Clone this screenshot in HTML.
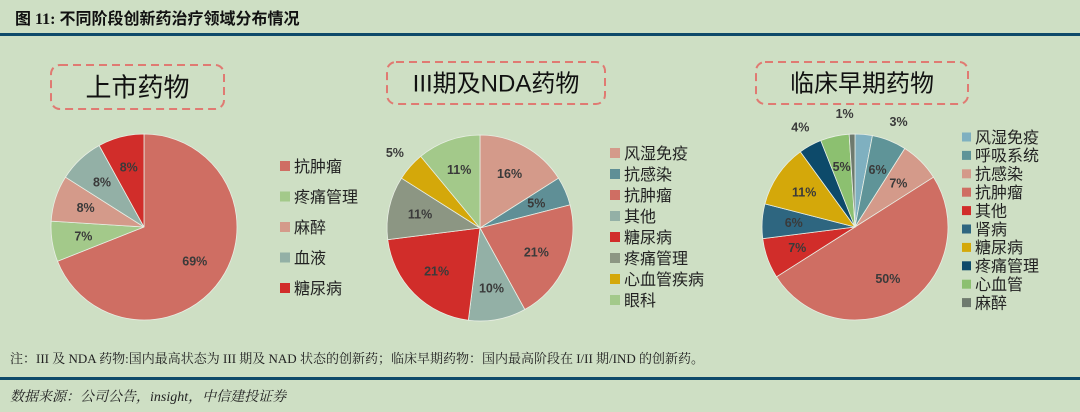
<!DOCTYPE html>
<html><head><meta charset="utf-8">
<style>
body{margin:0;background:#cedfc4;}
#root{position:relative;width:1080px;height:412px;background:#cedfc4;overflow:hidden;font-family:"Liberation Sans","Noto Sans CJK SC",sans-serif;}
.t{position:absolute;white-space:nowrap;}
</style></head>
<body>
<div id="root">
<div class="t" style="left:15px;top:5px;font-size:16px;font-weight:bold;color:#111;font-family:'Liberation Serif','Noto Sans CJK SC',serif;">图 11:  不同阶段创新药治疗领域分布情况</div>
<div style="position:absolute;left:0;top:33px;width:1080px;height:3px;background:#0e4a6a;"></div>
<svg id="svg" width="1080" height="412" style="position:absolute;left:0;top:0"></svg>
<div class="t" style="left:10px;top:348px;font-size:13px;color:#222;font-family:'Liberation Serif','Noto Serif CJK SC',serif;">注：III 及 NDA 药物:国内最高状态为 III 期及 NAD 状态的创新药；临床早期药物：国内最高阶段在 I/II 期/IND 的创新药。</div>
<div style="position:absolute;left:0;top:377px;width:1080px;height:3px;background:#0e4a6a;"></div>
<div class="t" style="left:10px;top:386px;font-size:14px;font-style:italic;color:#222;font-family:'Liberation Serif','Noto Serif CJK SC',serif;">数据来源：公司公告，insight，中信建投证券</div>
</div>
<script>
const p1Names=["抗肿瘤","疼痛管理","麻醉","血液","糖尿病"];
const p1Values=[69,7,8,8,8];
const p1Colors=["#cf6e63","#a3c98a","#d49a8a","#93b0a6","#d12d2a"];
const p2Names=["风湿免疫","抗感染","抗肿瘤","其他","糖尿病","疼痛管理","心血管疾病","眼科"];
const p2Values=[16,5,21,10,21,11,5,11];
const p2Colors=["#d49a8a","#5f8f96","#cf6e63","#93b0a6","#d12d2a","#8c9683","#d4a80a","#a3c98a"];
const p3Names=["风湿免疫","呼吸系统","抗感染","抗肿瘤","其他","肾病","糖尿病","疼痛管理","心血管","麻醉"];
const p3Values=[3,6,7,50,7,6,11,4,5,1];
const p3Colors=["#7fb0c0","#5f9498","#d49a8a","#cf6e63","#d12d2a","#2e6680","#d4a80a","#0d4a6a","#8cc070","#6e7a6e"];
const p2Outside=["心血管疾病"];
const p3Outside=["风湿免疫","疼痛管理","麻醉"];
const svg=document.getElementById('svg');
const NS="http://www.w3.org/2000/svg";
function mk(tag,attrs){const e=document.createElementNS(NS,tag);for(const k in attrs)e.setAttribute(k,attrs[k]);svg.appendChild(e);return e;}
function box(x,y,w,h,label,fs){
  const r=mk('rect',{x:x,y:y,width:w,height:h,rx:9,fill:'none',stroke:'#e07a72','stroke-width':2,'stroke-dasharray':'8,5'});
  
  
  const t=mk('text',{x:x+w/2,y:y+h/2+fs*0.36,'text-anchor':'middle','font-size':fs,fill:'#111'});
  t.textContent=label;
  
  
}
function pie(cx,cy,R,names,vals,cols,outside,lx,ly,dy,lfs,sq){
  const tot=vals.reduce((a,b)=>a+b,0);let acc=0;
  vals.forEach((v,i)=>{
    const a0=acc/tot*2*Math.PI;acc+=v;const a1=acc/tot*2*Math.PI;
    const x0=cx+R*Math.sin(a0),y0=cy-R*Math.cos(a0),x1=cx+R*Math.sin(a1),y1=cy-R*Math.cos(a1);
    const large=(a1-a0)>Math.PI?1:0;
    const p=mk('path',{d:`M${cx},${cy}L${x0},${y0}A${R},${R} 0 ${large} 1 ${x1},${y1}Z`,fill:cols[i],stroke:'#e8eee4','stroke-width':0.8});
    
    
    let am=(a0+a1)/2;const out=outside.indexOf(names[i])>=0;const f=out?1.22:0.66;
    if(out&&i===0)am+=0.3;
    if(out&&i===vals.length-1)am-=0.06;
    const t=mk('text',{x:cx+R*f*Math.sin(am),y:cy-R*f*Math.cos(am)+4,'text-anchor':'middle','font-size':12.5,'font-weight':'bold',fill:'#3a3a3a'});
    t.textContent=v+'%';
    
    
    const s=mk('rect',{x:lx,y:ly+i*dy-sq/2,width:sq,height:sq,fill:cols[i]});
    
    
    const lt=mk('text',{x:lx+sq+4,y:ly+i*dy+lfs*0.36,'font-size':lfs,fill:'#222'});
    lt.textContent=names[i];
    
    
  });
}
box(51,65,173,44,'上市药物',26);
box(387,62,218,42,'III期及NDA药物',24);
box(756,62,212,42,'临床早期药物',24);
pie(144,227,93,p1Names,p1Values,p1Colors,[],280,166,30.5,16,10);
pie(480,228,93,p2Names,p2Values,p2Colors,p2Outside,610,153,21,16,10);
pie(855,227,93,p3Names,p3Values,p3Colors,p3Outside,962,137,18.4,16,9);
</script>
</body></html>
